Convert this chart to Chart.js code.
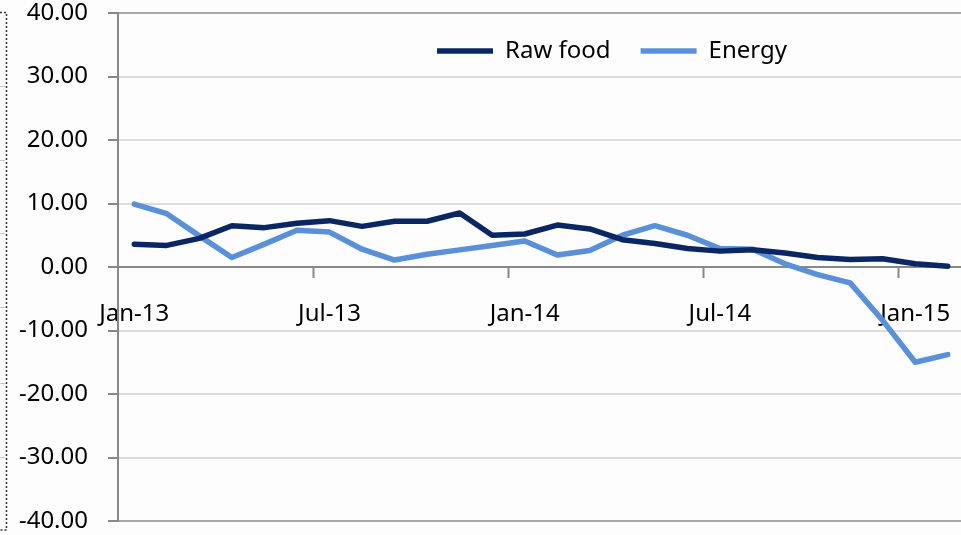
<!DOCTYPE html>
<html>
<head>
<meta charset="utf-8">
<script src="https://cdn.jsdelivr.net/npm/chart.js@4/dist/chart.umd.min.js"></script>
<style>
html,body{margin:0;padding:0;background:#fff;overflow:hidden;}
#wrap{position:relative;width:964px;height:535px;}
</style>
</head>
<body>
<div id="wrap"><canvas id="c" width="964" height="535"></canvas></div>
<script>
const categories = ["Jan-13","Feb-13","Mar-13","Apr-13","May-13","Jun-13","Jul-13","Aug-13","Sep-13","Oct-13","Nov-13","Dec-13",
  "Jan-14","Feb-14","Mar-14","Apr-14","May-14","Jun-14","Jul-14","Aug-14","Sep-14","Oct-14","Nov-14","Dec-14","Jan-15","Feb-15"];
const rawFood = [3.6,3.4,4.5,6.5,6.2,6.9,7.3,6.4,7.2,7.2,8.5,5.0,5.2,6.6,6.0,4.3,3.7,2.9,2.5,2.7,2.2,1.5,1.2,1.3,0.5,0.1];
const energy  = [9.9,8.4,4.9,1.5,3.6,5.8,5.5,2.8,1.1,2.0,2.7,3.4,4.1,1.9,2.6,5.0,6.5,5.0,2.9,2.8,0.5,-1.2,-2.5,-8.4,-15.0,-13.8];
const yTicks = [-40,-30,-20,-10,0,10,20,30,40];
const seriesNames = ["Raw food","Energy"];

const FONT = "'Noto Sans', 'DejaVu Sans', sans-serif";
const LEGEND_FONT = 24, LEGEND_PAD = 30;

const decor = {
  id: 'decor',
  afterLayout(chart) {
    const lg = chart.legend;
    if (lg) {
      const shift = 612 - (lg.left + lg.right) / 2;
      lg.left += shift; lg.right += shift;
      const h = lg.height;
      lg.top = 51 - LEGEND_PAD - LEGEND_FONT / 2;
      lg.bottom = lg.top + h;
    }
  },
  beforeDraw(chart) {
    const ctx = chart.ctx;
    ctx.save();
    ctx.fillStyle = '#fdfdfd';
    ctx.fillRect(0, 0, chart.width, chart.height);
    ctx.strokeStyle = '#333';
    ctx.lineWidth = 1.5;
    ctx.setLineDash([2, 2]);
    ctx.beginPath();
    ctx.moveTo(0, 12.5); ctx.lineTo(6.5, 12.5); ctx.lineTo(6.5, 530); ctx.lineTo(0, 530);
    ctx.stroke();
    ctx.setLineDash([]);
    ctx.strokeStyle = '#c8c8c8';
    ctx.lineWidth = 1;
    [86, 160, 233, 307, 383, 457].forEach(y => {
      ctx.beginPath(); ctx.moveTo(0, y + 0.5); ctx.lineTo(5, y + 0.5); ctx.stroke();
    });
    ctx.restore();
  }
};

// legend height = fontSize + padding + 10 ; keep chart area top at ~13px
const legendHeight = LEGEND_FONT + LEGEND_PAD + 10;

new Chart(document.getElementById('c'), {
  type: 'line',
  data: {
    labels: categories,
    datasets: [
      { label: seriesNames[0], data: rawFood, borderColor: '#0b2763', backgroundColor: '#0b2763', borderWidth: 5.5,
        pointRadius: 0, tension: 0, borderCapStyle: 'round', borderJoinStyle: 'round' },
      { label: seriesNames[1], data: energy, borderColor: '#5a90d8', backgroundColor: '#5a90d8', borderWidth: 5.5,
        pointRadius: 0, tension: 0, borderCapStyle: 'round', borderJoinStyle: 'round' }
    ]
  },
  options: {
    responsive: false,
    animation: false,
    layout: { padding: { top: 13 - legendHeight, bottom: 14, left: 0, right: 0 } },
    plugins: {
      legend: {
        position: 'top',
        align: 'center',
        labels: {
          usePointStyle: true, pointStyle: 'line', pointStyleWidth: 56, boxHeight: 5,
          padding: LEGEND_PAD, color: '#000',
          font: { family: FONT, size: LEGEND_FONT }
        }
      },
      tooltip: { enabled: false }
    },
    scales: {
      x: {
        type: 'category',
        position: { y: 0 },
        offset: true,
        afterFit(s) { s.height = 0; s.paddingLeft = 0; s.paddingRight = 0; },
        border: { display: true, color: '#888', width: 2 },
        grid: {
          offset: true, drawOnChartArea: false, drawTicks: true, tickLength: 10, tickWidth: 2,
          tickColor: ctx => (ctx.index % 6 === 0 && ctx.index > 0 && ctx.index < categories.length) ? '#888' : 'rgba(0,0,0,0)'
        },
        ticks: {
          autoSkip: false, maxRotation: 0, minRotation: 0, padding: 23, color: '#000',
          font: { family: FONT, size: 24 },
          callback: (v, i) => (i % 6 === 0 ? categories[i] : '')
        }
      },
      y: {
        min: -40, max: 40,
        afterFit(s) { s.width = 118; s.paddingTop = 0; s.paddingBottom = 0; },
        afterBuildTicks(s) { s.ticks = yTicks.map(v => ({ value: v })); },
        border: { display: true, color: '#888', width: 2 },
        grid: {
          color: ctx => (ctx.tick && Math.abs(ctx.tick.value) === 40) ? '#a8a8a8' : '#dcdcdc',
          lineWidth: 2, tickLength: 10, tickColor: '#888', tickWidth: 2
        },
        ticks: {
          padding: 20, color: '#000',
          font: { family: FONT, size: 24 },
          callback: v => Number(v).toFixed(2)
        }
      }
    }
  },
  plugins: [decor]
});
</script>
</body>
</html>
